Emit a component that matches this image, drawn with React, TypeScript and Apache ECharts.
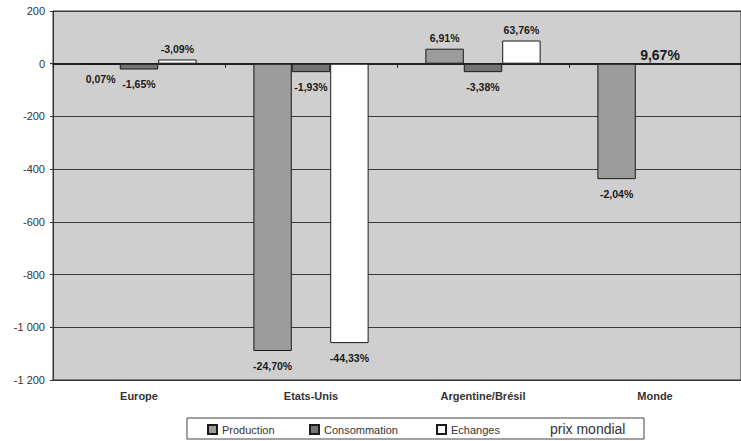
import React, { useEffect, useRef } from "react";
import * as echarts from "echarts";

const categories = ["Europe", "Etats-Unis", "Argentine/Brésil", "Monde"];
const production = [-2, -1090, 57, -438];
const consommation = [-22, -32, -32, null];
const echanges = [16, -1060, 88, null];
const productionLabels = ["0,07%", "-24,70%", "6,91%", "-2,04%"];
const consommationLabels = ["-1,65%", "-1,93%", "-3,38%", ""];
const echangesLabels = ["-3,09%", "-44,33%", "63,76%", ""];
const prixMondial = [null, null, null, 0];
const prixMondialLabel = "9,67%";
const yTicks = { min: -1200, max: 200, interval: 200 };

const FONT = "'Liberation Sans', Arial, sans-serif";

function items(values: (number | null)[], labels: string[]) {
  return values.map((v, i) => {
    const pos = v !== null && v >= 0;
    return {
      value: v,
      label: {
        show: v !== null && labels[i] !== "",
        position: pos ? "top" : "bottom",
        distance: pos ? 5 : 9,
        formatter: labels[i],
      },
    };
  });
}

export default function App() {
  const ref = useRef<HTMLDivElement>(null);
  useEffect(() => {
    if (!ref.current) return;
    const chart = echarts.init(ref.current, null, { renderer: "svg" });
    const labelStyle = {
      fontFamily: FONT,
      fontSize: 10.5,
      fontWeight: "bold",
      color: "#1a1a1a",
    };
    const barBorder = { borderColor: "#1a1a1a", borderWidth: 1 };
    chart.setOption({
      animation: false,
      backgroundColor: "#ffffff",
      grid: {
        left: 53,
        top: 11,
        bottom: 61,
        right: -8,
        show: true,
        backgroundColor: "#cfcfcf",
        borderColor: "#333",
        borderWidth: 1,
      },
      graphic: [
        {
          type: "rect",
          shape: { x: 187, y: 418, width: 457, height: 21 },
          style: { fill: "#ffffff", stroke: "#444", lineWidth: 1 },
          z: 0,
        },
      ],
      legend: [
        { name: "Production", left: 207 },
        { name: "Consommation", left: 309 },
        { name: "Echanges", left: 436 },
      ]
        .map((l) => ({
          data: [l.name],
          left: l.left,
          top: 424,
          padding: 0,
          itemWidth: 9,
          itemHeight: 9,
          icon: "rect",
          selectedMode: false,
          textStyle: { fontFamily: FONT, fontSize: 11, color: "#333" },
          z: 5,
        }))
        .concat([
          {
            data: ["prix mondial"],
            left: 545,
            top: 422,
            padding: 0,
            itemWidth: 0,
            itemHeight: 9,
            icon: "none",
            selectedMode: false,
            textStyle: { fontFamily: FONT, fontSize: 14, color: "#333" },
            z: 5,
          } as any,
        ]),
      xAxis: [
        {
          type: "category",
          data: categories,
          position: "bottom",
          axisLine: { show: true, onZero: false, lineStyle: { color: "#333" } },
          axisTick: { show: false },
          axisLabel: {
            fontFamily: FONT,
            fontSize: 11,
            fontWeight: "bold",
            color: "#333",
            margin: 10,
          },
          splitLine: { show: false },
        },
        {
          type: "category",
          data: categories,
          position: "bottom",
          axisLine: { show: true, onZero: true, lineStyle: { color: "#222", width: 2 } },
          axisTick: { show: true, length: 4, lineStyle: { color: "#222" } },
          axisLabel: { show: false },
          splitLine: { show: false },
        },
      ],
      yAxis: {
        type: "value",
        min: yTicks.min,
        max: yTicks.max,
        interval: yTicks.interval,
        axisLine: { show: true, lineStyle: { color: "#333" } },
        axisTick: { show: true, length: 3, lineStyle: { color: "#333" } },
        axisLabel: {
          fontFamily: FONT,
          fontSize: 11,
          color: "#333",
          margin: 8,
          formatter: (v: number) => {
            const s = Math.abs(v).toString().replace(/\B(?=(\d{3})+(?!\d))/g, " ");
            return (v < 0 ? "-" : "") + s;
          },
        },
        splitLine: { show: true, lineStyle: { color: "#3a3a3a", width: 1 } },
      },
      series: [
        {
          name: "Production",
          type: "bar",
          xAxisIndex: 0,
          barGap: "0%",
          barCategoryGap: "33%",
          data: items(production, productionLabels),
          itemStyle: { color: "#9c9c9c", ...barBorder },
          label: labelStyle,
        },
        {
          name: "Consommation",
          type: "bar",
          xAxisIndex: 0,
          barGap: "0%",
          barCategoryGap: "33%",
          data: items(consommation, consommationLabels),
          itemStyle: { color: "#747474", ...barBorder },
          label: labelStyle,
        },
        {
          name: "Echanges",
          type: "bar",
          xAxisIndex: 0,
          barGap: "0%",
          barCategoryGap: "33%",
          data: items(echanges, echangesLabels),
          itemStyle: { color: "#ffffff", ...barBorder },
          label: labelStyle,
        },
        {
          name: "prix mondial",
          type: "scatter",
          xAxisIndex: 0,
          symbolSize: 1,
          data: prixMondial,
          itemStyle: { color: "#222", opacity: 1 },
          label: {
            show: true,
            position: "top",
            distance: 1,
            offset: [5, 0],
            formatter: prixMondialLabel,
            fontFamily: FONT,
            fontSize: 14,
            fontWeight: "bold",
            color: "#1a1a1a",
            opacity: 1,
          },
          z: 10,
        },
      ],
    });
    return () => chart.dispose();
  }, []);
  return (
    <div
      ref={ref}
      style={{ position: "absolute", left: 0, top: 0, width: 741, height: 441 }}
    />
  );
}
